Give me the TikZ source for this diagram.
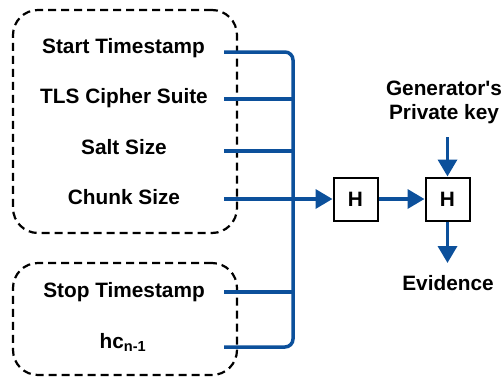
\documentclass[tikz,border=0pt]{standalone}
\usepackage{fontspec}
\setmainfont{Liberation Sans}
\usetikzlibrary{arrows.meta}
\definecolor{flowblue}{RGB}{12,80,155}
\begin{document}
\begin{tikzpicture}[x=1pt,y=-1pt,
  lbl/.style={font=\bfseries\fontsize{20.8}{25}\selectfont, anchor=base, inner sep=0pt},
  group/.style={draw, dash pattern=on 8pt off 5pt, line width=2.2pt, rounded corners=25pt,
                inner sep=0pt},
  wire/.style={draw=flowblue, line width=3.5pt},
  flow/.style={wire, -{Triangle[length=17pt,width=19pt]}},
  hbox/.style={draw, line width=2pt, minimum width=44pt, minimum height=43pt,
               inner sep=0pt, font=\bfseries\fontsize{20.8}{25}\selectfont}]
\useasboundingbox (0,0) rectangle (504,378);

% dashed groups of inputs
\node[group, minimum width=224pt, minimum height=223pt] (upper) at (125,121.5) {};
\node[group, minimum width=224pt, minimum height=112pt] (lower) at (125,319) {};

% input fields
\node[lbl] (start) at (123.5,53) {Start Timestamp};
\node[lbl] (tls)   at (124,103) {TLS Cipher Suite};
\node[lbl] (salt)  at (124,154) {Salt Size};
\node[lbl] (chunk) at (124,204) {Chunk Size};
\node[lbl] (stop)  at (124,297) {Stop Timestamp};
\node[lbl] (hc)    at (123,348) {hc\textsubscript{n-1}};

% wire starting points
\coordinate (pStart) at (224,52);
\coordinate (pTLS)   at (224,99);
\coordinate (pSalt)  at (224,151);
\coordinate (pChunk) at (224,199);
\coordinate (pStop)  at (224,292);
\coordinate (pHc)    at (224,347);
\coordinate (busTop) at (293,52);
\coordinate (busBot) at (293,347);

% hashing stages
\node[hbox] (h1) at (355.5,199) {H};
\node[hbox] (h2) at (447.5,199) {H};

% key and result labels
\node[lbl] (gen)  at (444,95)  {Generator\textquotesingle s};
\node[lbl] (priv) at (444,119) {Private key};
\coordinate (keyIn) at (447.5,137);
\node[lbl] (evid) at (448,290) {Evidence};
\coordinate (evOut) at (447.5,263);

% collecting bus
\draw[wire, rounded corners=8pt] (pStart) -- (busTop) -- (busBot) -- (pHc);
\draw[wire] (pTLS)  -- (pTLS -| busTop);
\draw[wire] (pSalt) -- (pSalt -| busTop);
\draw[wire] (pStop) -- (pStop -| busTop);

% data flow
\draw[flow] (pChunk) -- (h1.west);
\draw[flow] (h1.east) -- (h2.west);
\draw[flow] (keyIn) -- (h2.north);
\draw[flow] (h2.south) -- (evOut);
\end{tikzpicture}
\end{document}
